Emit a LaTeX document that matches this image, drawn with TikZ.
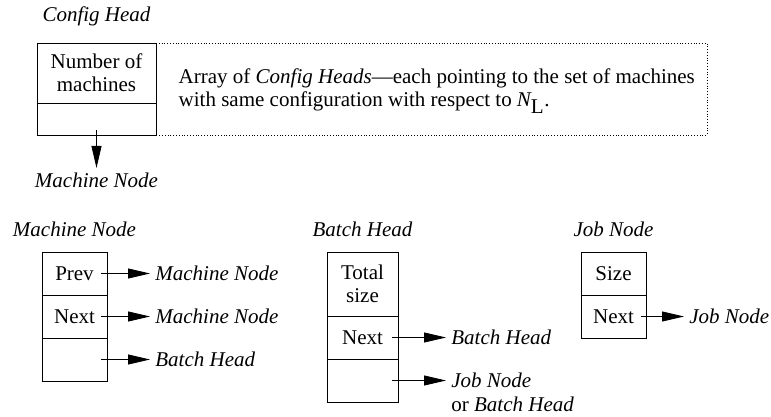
\documentclass[tikz,border=0pt]{standalone}
\usepackage{fontspec}
\setmainfont{Liberation Serif}
\usetikzlibrary{arrows.meta,positioning}

\begin{document}
\begin{tikzpicture}
[
	x=1pt, y=-1pt,
	line width=0.8pt,
	every node/.style={font=\fontsize{21}{23}\selectfont},
	field/.style={draw,rectangle,inner sep=0pt,outer sep=0pt,minimum height=43pt,align=center},
	lbl/.style={font=\fontsize{21}{23}\selectfont\itshape,inner sep=5pt},
	ptr/.style={-{Triangle[length=22pt,width=10pt]}}
]
	\useasboundingbox (0,0) rectangle (771,417);

	% config head
	\node[field,minimum width=119pt,minimum height=60pt,anchor=north] (cfgnum) at (96.5,43) {Number of\\machines};
	\node[field,minimum width=119pt,minimum height=32pt,below=0pt of cfgnum] (cfgptr) {};
	\node[lbl,above=12pt of cfgnum] (cfghead) {Config Head};
	\draw[dotted] (cfgnum.north east) -- ++(551,0) |- (cfgptr.south east);
	\node[anchor=west,align=left] (cfgdesc) at (175,91)
	  {Array of \textit{Config Heads}---each pointing to the set of machines\\
	   with same configuration with respect to $\textit{N}_{\textrm{L}}$.};
	\node[lbl,below=33pt of cfgptr] (cfgto) {Machine Node};
	\draw[ptr] ([yshift=5pt]cfgptr.south) -- (cfgto.north);

	% machine node
	\node[field,minimum width=65pt,anchor=north] (mprev) at (74.5,252) {Prev};
	\node[field,minimum width=65pt,below=0pt of mprev] (mnext) {Next};
	\node[field,minimum width=65pt,below=0pt of mnext] (mbatch) {};
	\node[lbl,above=10pt of mprev] (mhead) {Machine Node};
	\node[lbl,right=43pt of mprev] (mprevto) {Machine Node};
	\node[lbl,right=43pt of mnext] (mnextto) {Machine Node};
	\node[lbl,right=43pt of mbatch] (mbatchto) {Batch Head};
	\draw[ptr] ([xshift=-6pt]mprev.east) -- (mprevto);
	\draw[ptr] ([xshift=-6pt]mnext.east) -- (mnextto);
	\draw[ptr] ([xshift=-6pt]mbatch.east) -- (mbatchto);

	% batch head
	\node[field,minimum width=71pt,minimum height=64pt,anchor=north] (btotal) at (362.5,252) {Total\\size};
	\node[field,minimum width=71pt,below=0pt of btotal] (bnext) {Next};
	\node[field,minimum width=71pt,below=0pt of bnext] (bsub) {};
	\node[lbl,above=10pt of btotal] (bhead) {Batch Head};
	\node[lbl,right=48pt of bnext] (bnextto) {Batch Head};
	\node[lbl,right=48pt of bsub] (bsubto) {Job Node};
	\node[below=-2pt of bsubto.south west,anchor=north west,inner sep=5pt] (bsubor) {or \textit{Batch Head}};
	\draw[ptr] ([xshift=-6pt]bnext.east) -- (bnextto);
	\draw[ptr] ([xshift=-6pt]bsub.east) -- (bsubto);

	% job node
	\node[field,minimum width=65pt,anchor=north] (jsize) at (613.5,252) {Size};
	\node[field,minimum width=65pt,below=0pt of jsize] (jnext) {Next};
	\node[lbl,above=10pt of jsize] (jhead) {Job Node};
	\node[lbl,right=38pt of jnext] (jnextto) {Job Node};
	\draw[ptr] ([xshift=-5pt]jnext.east) -- (jnextto);

\end{tikzpicture}
\end{document}
